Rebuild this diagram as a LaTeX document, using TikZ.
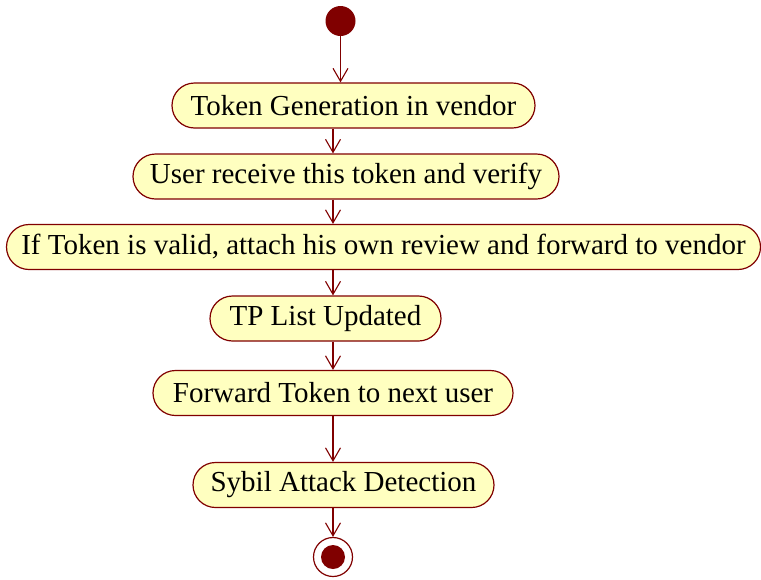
\documentclass[tikz,border=0pt]{standalone}
\usepackage{fontspec}
\setmainfont{Liberation Serif}
\usetikzlibrary{arrows.meta}
\definecolor{umlred}{RGB}{128,0,0}
\definecolor{umlfill}{RGB}{255,255,192}
\begin{document}
\begin{tikzpicture}[x=1pt,y=-1pt,
  act/.style={draw=umlred, fill=umlfill, line width=1.2pt, rounded corners=22.5pt,
    minimum height=45pt, inner sep=0pt, font=\fontsize{29}{32}\selectfont, text=black},
  flow/.style={draw=umlred, line width=1.1pt, -{Straight Barb[length=13pt,width=15pt,line width=1.1pt]}}]
\useasboundingbox (0,0) rectangle (761,579);
\fill[umlred] (340.5,21) circle (15);
\node[circle, minimum size=30pt, inner sep=0pt] (start) at (340.5,21) {};
\node[act, minimum width=363pt] (b1) at (353.5,105.5) {Token Generation in vendor};
\node[act, minimum width=426pt] (b2) at (346,176.5) {User receive this token and verify};
\node[act, minimum width=754pt] (b3) at (383.5,247) {If Token is valid, attach his own review and forward to vendor};
\node[act, minimum width=231pt] (b4) at (325.5,318.5) {TP List Updated};
\node[act, minimum width=360pt] (b5) at (333,393) {Forward Token to next user};
\node[act, minimum width=301pt] (b6) at (343.5,485) {Sybil Attack Detection};
\node[circle, draw=umlred, line width=1.2pt, fill=white, minimum size=39pt, inner sep=0pt] (end) at (333,557) {};
\fill[umlred] (end.center) circle (12);
\coordinate (axis) at (333,0);
\draw[flow] (start) -- (start |- b1.north);
\draw[flow] (b1.south -| axis) -- (b2.north -| axis);
\draw[flow] (b2.south -| axis) -- (b3.north -| axis);
\draw[flow] (b3.south -| axis) -- (b4.north -| axis);
\draw[flow] (b4.south -| axis) -- (b5.north -| axis);
\draw[flow] (b5.south -| axis) -- (b6.north -| axis);
\draw[flow] (b6.south -| axis) -- (end);
\end{tikzpicture}
\end{document}
